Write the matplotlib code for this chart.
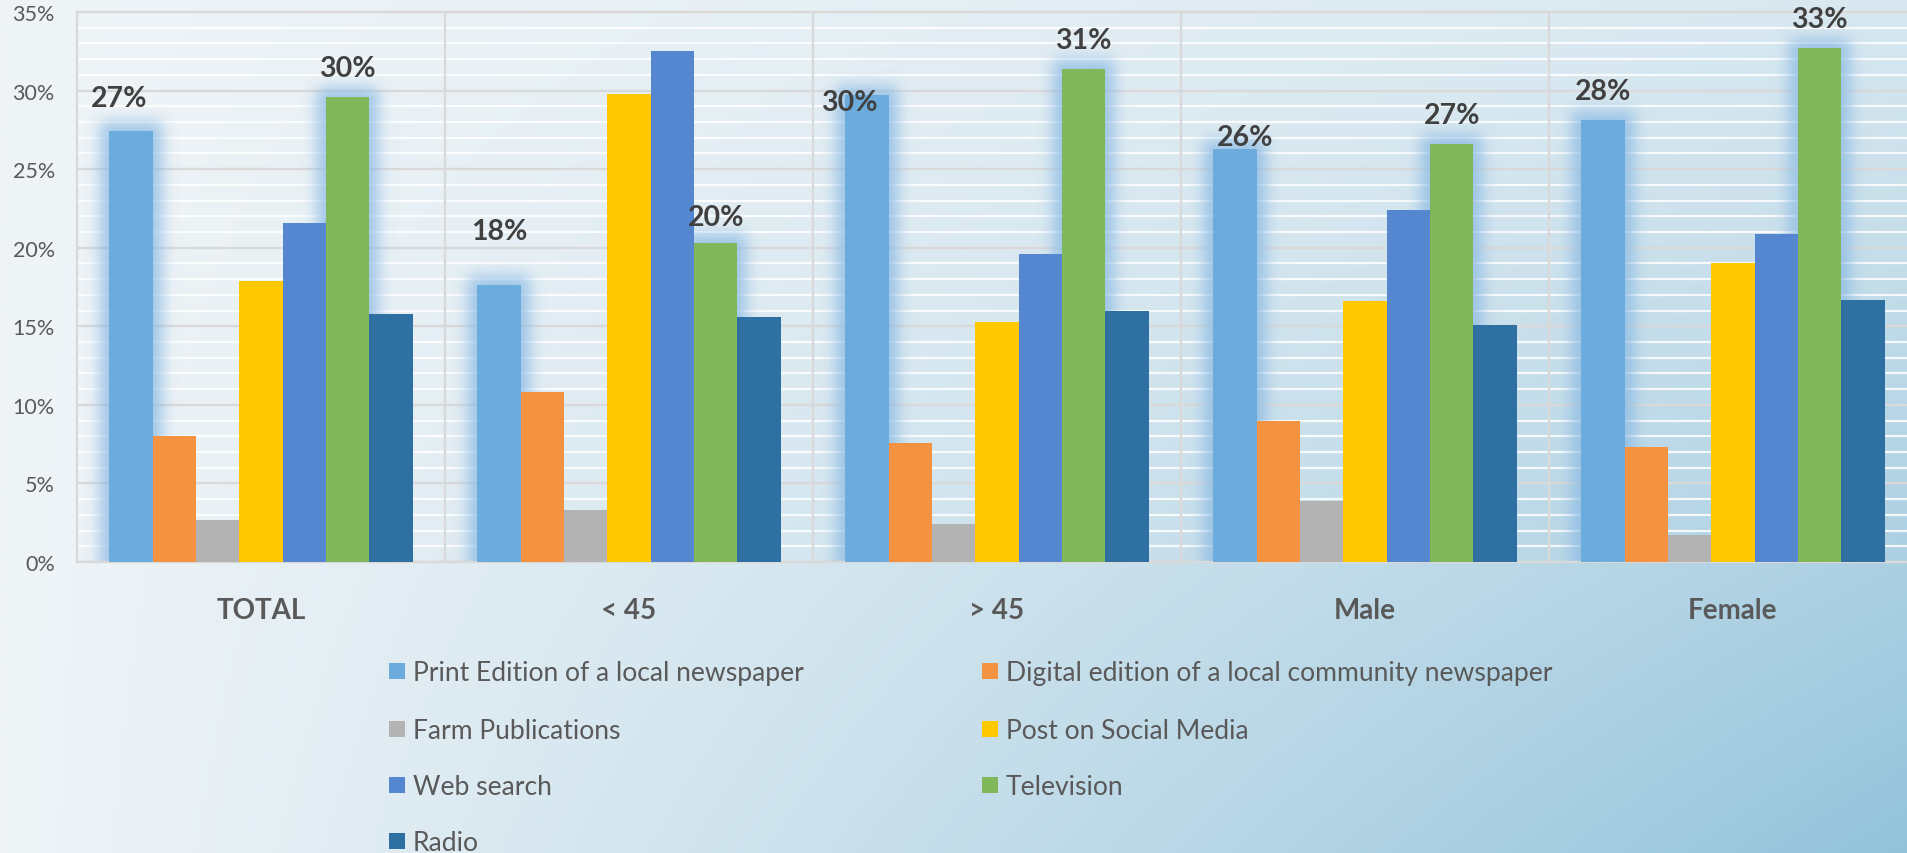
import numpy as np
import matplotlib
matplotlib.use("Agg")
import matplotlib.pyplot as plt
from matplotlib.ticker import MultipleLocator, FuncFormatter
from matplotlib.patches import Rectangle

# ---- data -------------------------------------------------------------
categories = ["TOTAL", "< 45", "> 45", "Male", "Female"]

series_names = [
    "Print Edition of a local newspaper",
    "Digital edition of a local community newspaper",
    "Farm Publications",
    "Post on Social Media",
    "Web search",
    "Television",
    "Radio",
]

print_edition = [27.4, 17.6, 29.7, 26.3, 28.1]
digital_edition = [8.0, 10.8, 7.6, 9.0, 7.3]
farm_publications = [2.7, 3.3, 2.4, 3.9, 1.7]
social_media = [17.9, 29.8, 15.3, 16.6, 19.0]
web_search = [21.6, 32.5, 19.6, 22.4, 20.9]
television = [29.6, 20.3, 31.4, 26.6, 32.7]
radio = [15.8, 15.6, 16.0, 15.1, 16.7]

series_values = [print_edition, digital_edition, farm_publications,
                 social_media, web_search, television, radio]

series_colors = ["#6cacdd", "#f39241", "#b3b3b3", "#ffc800",
                 "#5587d0", "#80b75a", "#2e70a2"]

# series that carry value labels and a glow
highlighted = [0, 5]

# label nudges in pixels (dx, gap above bar top) per (series, category)
label_nudge = {
    (0, 0): (-12, 25), (0, 1): (0, 46), (0, 2): (-18, -15),
    (0, 3): (10, 4), (0, 4): (0, 21),
    (5, 0): (0, 21), (5, 1): (0, 18), (5, 2): (0, 21),
    (5, 3): (0, 21), (5, 4): (0, 21),
}

# ---- figure -----------------------------------------------------------
W, H, DPI = 1908, 854, 100
plt.rcParams["font.family"] = ["Lato", "DejaVu Sans"]
fig = plt.figure(figsize=(W / DPI, H / DPI), dpi=DPI)

# gradient backdrop
bg = fig.add_axes([0, 0, 1, 1], zorder=-10)
bg.set_axis_off()
gx = np.linspace(0, 1, 480)[None, :]
gy = np.linspace(0, 1, 220)[:, None]          # 0 = top
t = np.clip(gx * (0.28 + 0.72 * gy), 0, 1) ** 1.1
c0 = np.array([0xef, 0xf4, 0xf7]) / 255
c1 = np.array([0x93, 0xc3, 0xdb]) / 255
grad = c0[None, None, :] * (1 - t[..., None]) + c1[None, None, :] * t[..., None]
bg.imshow(grad, extent=(0, 1, 0, 1), aspect="auto", origin="upper",
          interpolation="bilinear")
bg.set_xlim(0, 1)
bg.set_ylim(0, 1)

# plot area (runs a little past the right edge of the canvas)
left_px, top_px, bottom_px, cat_px = 77, 13, 563, 368
n_cat = len(categories)
ax = fig.add_axes([left_px / W, 1 - bottom_px / H,
                   n_cat * cat_px / W, (bottom_px - top_px) / H])
ax.patch.set_alpha(0)
ax.set_xlim(-0.5, n_cat - 0.5)
ax.set_ylim(0, 35)

grid_grey = "#d9d9d9"
ax.yaxis.set_major_locator(MultipleLocator(5))
ax.yaxis.set_minor_locator(MultipleLocator(1))
ax.yaxis.set_major_formatter(FuncFormatter(lambda v, _: f"{v:.0f}%"))
ax.set_axisbelow(True)
ax.grid(True, axis="y", which="major", color=grid_grey, lw=1.7, zorder=0.5)
ax.grid(True, axis="y", which="minor", color="white", lw=1.6, alpha=0.85,
        zorder=0.4)
ax.vlines(np.arange(n_cat - 1) + 0.5, 0, 35, color=grid_grey, lw=1.7,
          zorder=0.6)

for side in ("top", "left", "bottom"):
    ax.spines[side].set_color(grid_grey)
    ax.spines[side].set_linewidth(1.7)
ax.spines["right"].set_visible(False)

ax.tick_params(axis="y", which="both", length=0, pad=16, labelsize=15.5,
               labelcolor="#595959")
ax.tick_params(axis="x", length=0, pad=25, labelsize=20, labelcolor="#595959")
ax.set_xticks(np.arange(n_cat))
ax.set_xticklabels(categories, fontweight="bold")

# bars
n_ser = len(series_values)
bar_w = 0.1177
x = np.arange(n_cat)
offsets = (np.arange(n_ser) - (n_ser - 1) / 2) * bar_w
for s, (vals, col) in enumerate(zip(series_values, series_colors)):
    ax.bar(x + offsets[s], vals, width=bar_w, color=col, lw=0, zorder=3,
           label=series_names[s])

# soft blue glow behind the highlighted series
nx, ny = n_cat * cat_px, bottom_px - top_px
px_x = n_cat / nx
px_y = 35 / ny
xc = -0.5 + (np.arange(nx) + 0.5) * px_x
yc = (np.arange(ny) + 0.5) * px_y
mask = np.zeros((ny, nx))
grow = 9
for s in highlighted:
    for i, v in enumerate(series_values[s]):
        x0 = x[i] + offsets[s] - bar_w / 2 - grow * px_x
        x1 = x[i] + offsets[s] + bar_w / 2 + grow * px_x
        y1 = v + grow * px_y
        mask[np.ix_(yc <= y1, (xc >= x0) & (xc <= x1))] = 1.0

sigma = 7.5
r = int(3 * sigma)
k = np.exp(-0.5 * (np.arange(-r, r + 1) / sigma) ** 2)
k /= k.sum()
padded = np.pad(mask, ((0, 0), (r, r)), mode="constant")
blur = np.apply_along_axis(lambda row: np.convolve(row, k, mode="valid"), 1, padded)
padded = np.pad(blur, ((r, r), (0, 0)), mode="edge")
blur = np.apply_along_axis(lambda col: np.convolve(col, k, mode="valid"), 0, padded)

glow_rgb = np.array([0x8a, 0xba, 0xe4]) / 255
glow = np.zeros((ny, nx, 4))
glow[..., :3] = glow_rgb
glow[..., 3] = 0.78 * blur
ax.imshow(glow, extent=(-0.5, n_cat - 0.5, 0, 35), origin="lower",
          aspect="auto", interpolation="bilinear", zorder=2)
ax.set_xlim(-0.5, n_cat - 0.5)
ax.set_ylim(0, 35)

# value labels
for s in highlighted:
    for i, v in enumerate(series_values[s]):
        dx, gap = label_nudge.get((s, i), (0, 21))
        ax.annotate(f"{v:.0f}%", xy=(x[i] + offsets[s], v),
                    xytext=(dx * 0.72, gap * 0.72), textcoords="offset points",
                    ha="center", va="baseline", fontsize=20.5,
                    fontweight="bold", color="#404040", zorder=5)

# legend: two columns, filled row by row
col_x = [389, 982]
row_y = [672, 730, 786, 842]
sq = 16
for idx, (name, col) in enumerate(zip(series_names, series_colors)):
    rx = col_x[idx % 2]
    ry = row_y[idx // 2]
    fig.patches.append(Rectangle((rx / W, 1 - (ry + sq / 2) / H), sq / W,
                                 sq / H, transform=fig.transFigure,
                                 facecolor=col, lw=0))
    fig.text((rx + sq + 8) / W, 1 - (ry + 9) / H, name, ha="left",
             va="baseline", fontsize=19.1, color="#595959")

fig.savefig("out.png", dpi=DPI)
